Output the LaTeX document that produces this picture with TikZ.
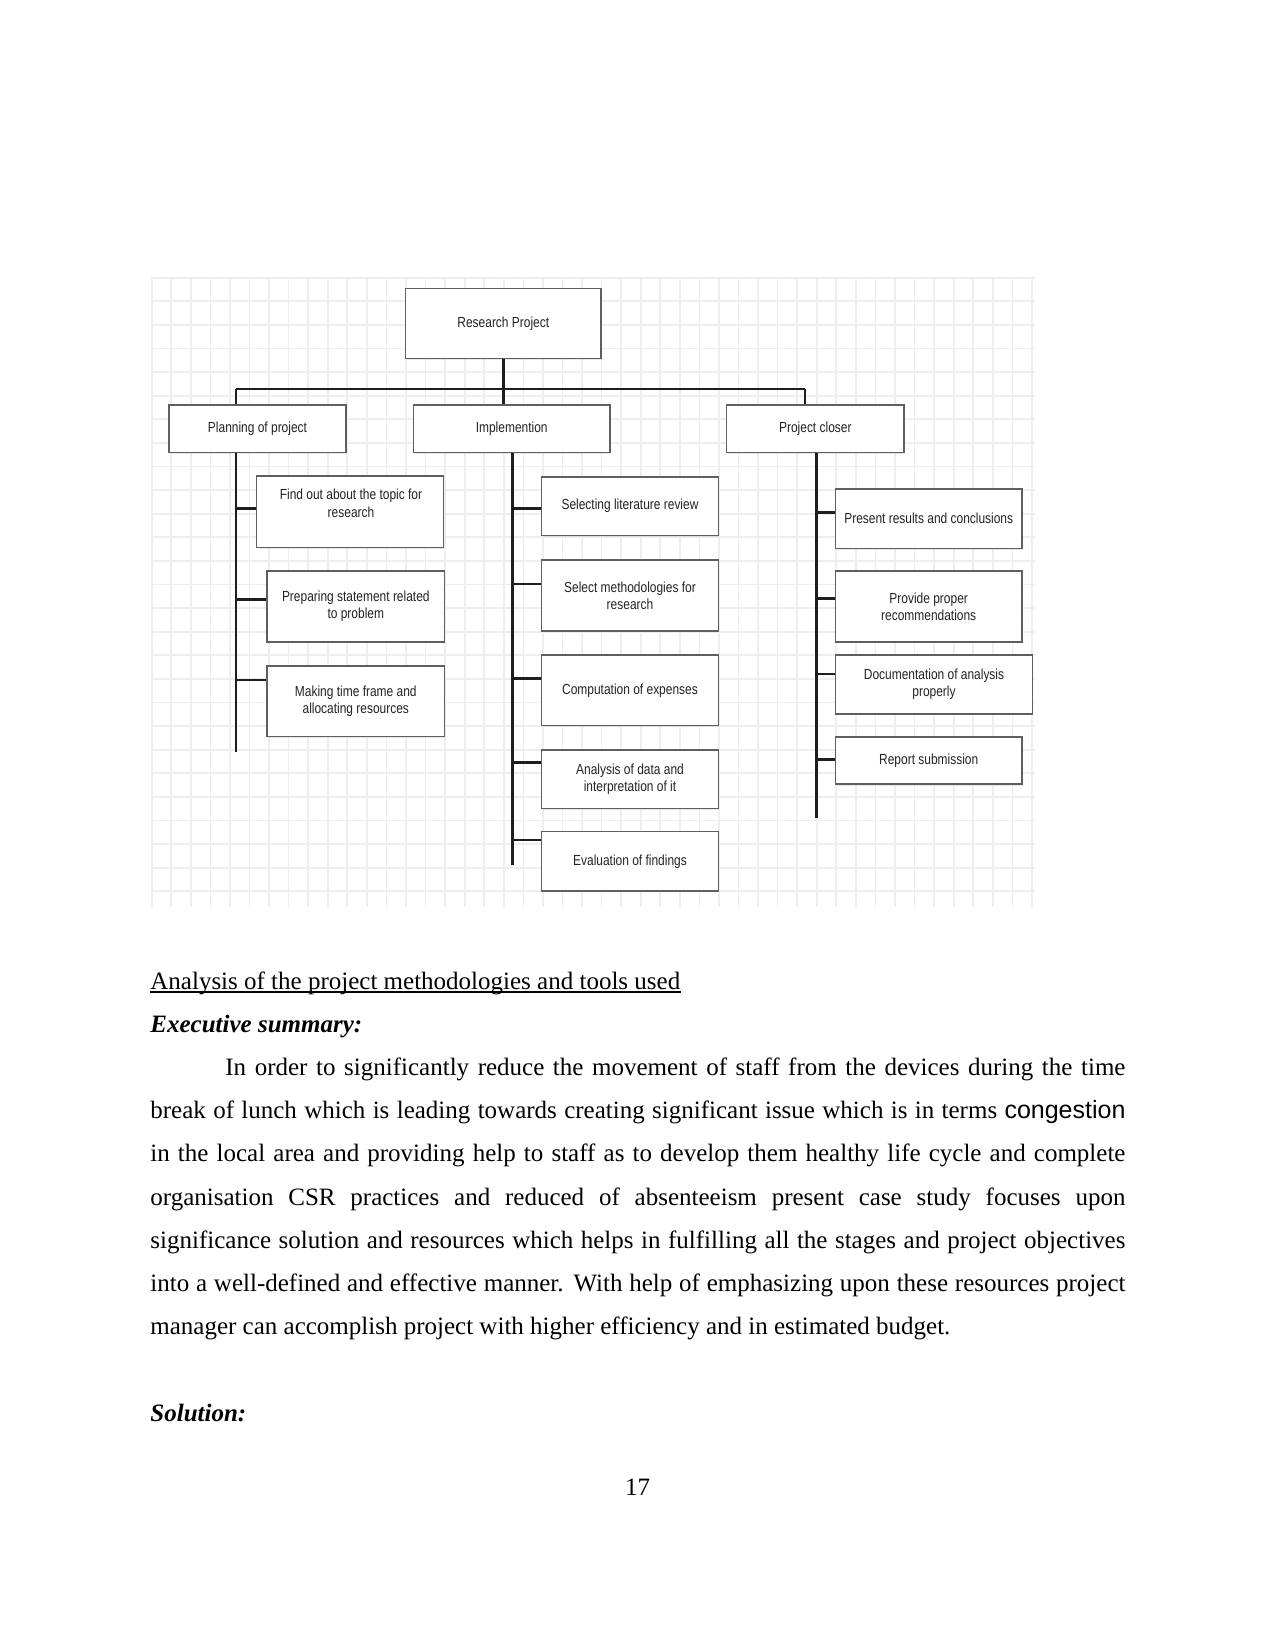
\documentclass[tikz,border=0pt]{standalone}
\usepackage{fontspec}
\setmainfont{Liberation Serif}
\newfontfamily\boxfont[FakeStretch=0.82]{Liberation Sans}
\newfontfamily\arialfont{Liberation Sans}
\usetikzlibrary{calc,shadows}
\definecolor{gridc}{RGB}{238,238,241}
\definecolor{boxc}{RGB}{95,95,95}
\definecolor{txtc}{RGB}{35,35,35}
\definecolor{linec}{RGB}{30,30,30}
\begin{document}
\begin{tikzpicture}[x=0.48pt,y=-0.48pt,
  boxtext/.style={inner sep=1pt, align=center, font={\boxfont\fontsize{7}{8.3}\selectfont}, text=txtc},
  box/.style={boxtext, draw=boxc, line width=0.75pt, fill=white, rectangle,
     drop shadow={opacity=0.18, shadow xshift=0.5pt, shadow yshift=-0.6pt}},
  conn/.style={draw=linec, line width=1.3pt},
  body/.style={inner sep=0pt, anchor=base west, font={\fontsize{12}{14}\selectfont}},
]
\useasboundingbox[fill=white] (0,0) rectangle (1275,1651);

% grid background
\foreach \k in {0,...,45}
  \draw[gridc, line width=0.8pt] ({151.7+19.56*\k},278) -- ({151.7+19.56*\k},906.7);
\foreach \k in {-1,...,25}
  \draw[gridc, line width=0.8pt] (150.7,{301.3+23.6*\k}) -- (1035,{301.3+23.6*\k});

% top levels
\node[box, minimum width=93.7pt, minimum height=33.6pt] (root) at (503.3,323.3) {Research Project};
\node[box, minimum width=84.7pt, minimum height=22.9pt] (plan) at (257.5,428.8) {Planning of project};
\node[box, minimum width=94.4pt, minimum height=22.9pt] (impl) at (511.7,428.8) {Implemention};
\node[box, minimum width=85.1pt, minimum height=22.9pt] (closer) at (815.3,428.8) {Project closer};

% planning column
\node[box, minimum width=89.6pt, minimum height=34.2pt] (find) at (350,511.7) {};
\node[boxtext] (findt) at (351,503.3) {Find out about the topic for\\research};
\node[box, minimum width=85pt, minimum height=34.1pt] (prep) at (355.8,606.5) {Preparing statement related\\to problem};
\node[box, minimum width=85pt, minimum height=33.9pt] (making) at (355.8,701.3) {Making time frame and\\allocating resources};

% implementation column
\node[box, minimum width=84.8pt, minimum height=28.3pt] (sel) at (630,506.2) {Selecting literature review};
\node[box, minimum width=84.8pt, minimum height=34.1pt] (meth) at (630,595.5) {Select methodologies for\\research};
\node[box, minimum width=84.8pt, minimum height=33.9pt] (comp) at (630,690.3) {Computation of expenses};
\node[box, minimum width=84.8pt, minimum height=28pt] (anal) at (630,779.2) {Analysis of data and\\interpretation of it};
\node[box, minimum width=84.8pt, minimum height=28.5pt] (eval) at (630,861.3) {Evaluation of findings};

% closer column
\node[box, minimum width=89.3pt, minimum height=28.5pt] (pres) at (928.7,518.7) {Present results and conclusions};
\node[box, minimum width=89.3pt, minimum height=34.1pt] (prov) at (928.7,606.5) {Provide proper\\recommendations};
\node[box, minimum width=94.4pt, minimum height=28.3pt] (doc) at (934,684.5) {Documentation of analysis\\properly};
\node[box, minimum width=89.3pt, minimum height=22.8pt] (rep) at (928.7,760.5) {Report submission};

% connectors
\coordinate (busL) at (236,389);
\coordinate (busR) at (805,389);
\draw[conn] (root.south) -- (root.south |- busL);
\draw[conn] (busL) -- (busR);
\draw[conn] (busL) -- (busL |- plan.north);
\draw[conn] (root.south |- busL) -- (root.south |- impl.north);
\draw[conn] (busR) -- (busR |- closer.north);

\coordinate (pS) at (236,751.7);
\coordinate (iS) at (512.3,865);
\coordinate (cS) at (816.7,818.3);
\draw[conn] (pS |- plan.south) -- (pS);
\draw[conn] (iS |- impl.south) -- (iS);
\draw[conn] (cS |- closer.south) -- (cS);

\draw[conn] (pS |- 0,508.3) -- (find.west |- 0,508.3);
\draw[conn] (pS |- 0,599.7) -- (prep.west |- 0,599.7);
\draw[conn] (pS |- 0,680) -- (making.west |- 0,680);

\draw[conn] (iS |- 0,508.3) -- (sel.west |- 0,508.3);
\draw[conn] (iS |- 0,584) -- (meth.west |- 0,584);
\draw[conn] (iS |- 0,678.3) -- (comp.west |- 0,678.3);
\draw[conn] (iS |- 0,762.3) -- (anal.west |- 0,762.3);
\draw[conn] (iS |- 0,840) -- (eval.west |- 0,840);

\draw[conn] (cS |- 0,512.7) -- (pres.west |- 0,512.7);
\draw[conn] (cS |- 0,598.3) -- (prov.west |- 0,598.3);
\draw[conn] (cS |- 0,674) -- (doc.west |- 0,674);
\draw[conn] (cS |- 0,759.3) -- (rep.west |- 0,759.3);

% body text
\node[body] (head) at (150,989) {Analysis of the project methodologies and tools used};
\draw[line width=0.55pt] ([yshift=-1.4pt]head.base west) -- ([yshift=-1.4pt]head.base east);
\node[body, font={\bfseries\itshape\fontsize{12}{14}\selectfont}] (exec) at (150,1032.2) {Executive summary:};
\node[body] (l1) at (150,1075.4) {\hbox to 468pt{\hspace*{36pt}In order to significantly reduce the movement of staff from the devices during the time}};
\node[body] (l2) at (150,1118.6) {\hbox to 468pt{break of lunch which is leading towards creating significant issue which is in terms {\arialfont congestion}}};
\node[body] (l3) at (150,1161.8) {\hbox to 468pt{in the local area and providing help to staff as to develop them healthy life cycle and complete}};
\node[body] (l4) at (150,1205) {\hbox to 468pt{organisation CSR practices and reduced of absenteeism present case study focuses upon}};
\node[body] (l5) at (150,1248.2) {\hbox to 468pt{significance solution and resources which helps in fulfilling all the stages and project objectives}};
\node[body] (l6) at (150,1291.4) {\hbox to 468pt{into a well-defined and effective manner. With help of emphasizing upon these resources project}};
\node[body] (l7) at (150,1334.6) {manager can accomplish project with higher efficiency and in estimated budget.};
\node[body, font={\bfseries\itshape\fontsize{12}{14}\selectfont}] (sol) at (150,1421) {Solution:};
\node[body, anchor=base] (pg) at (637.5,1495) {17};
\end{tikzpicture}
\end{document}
